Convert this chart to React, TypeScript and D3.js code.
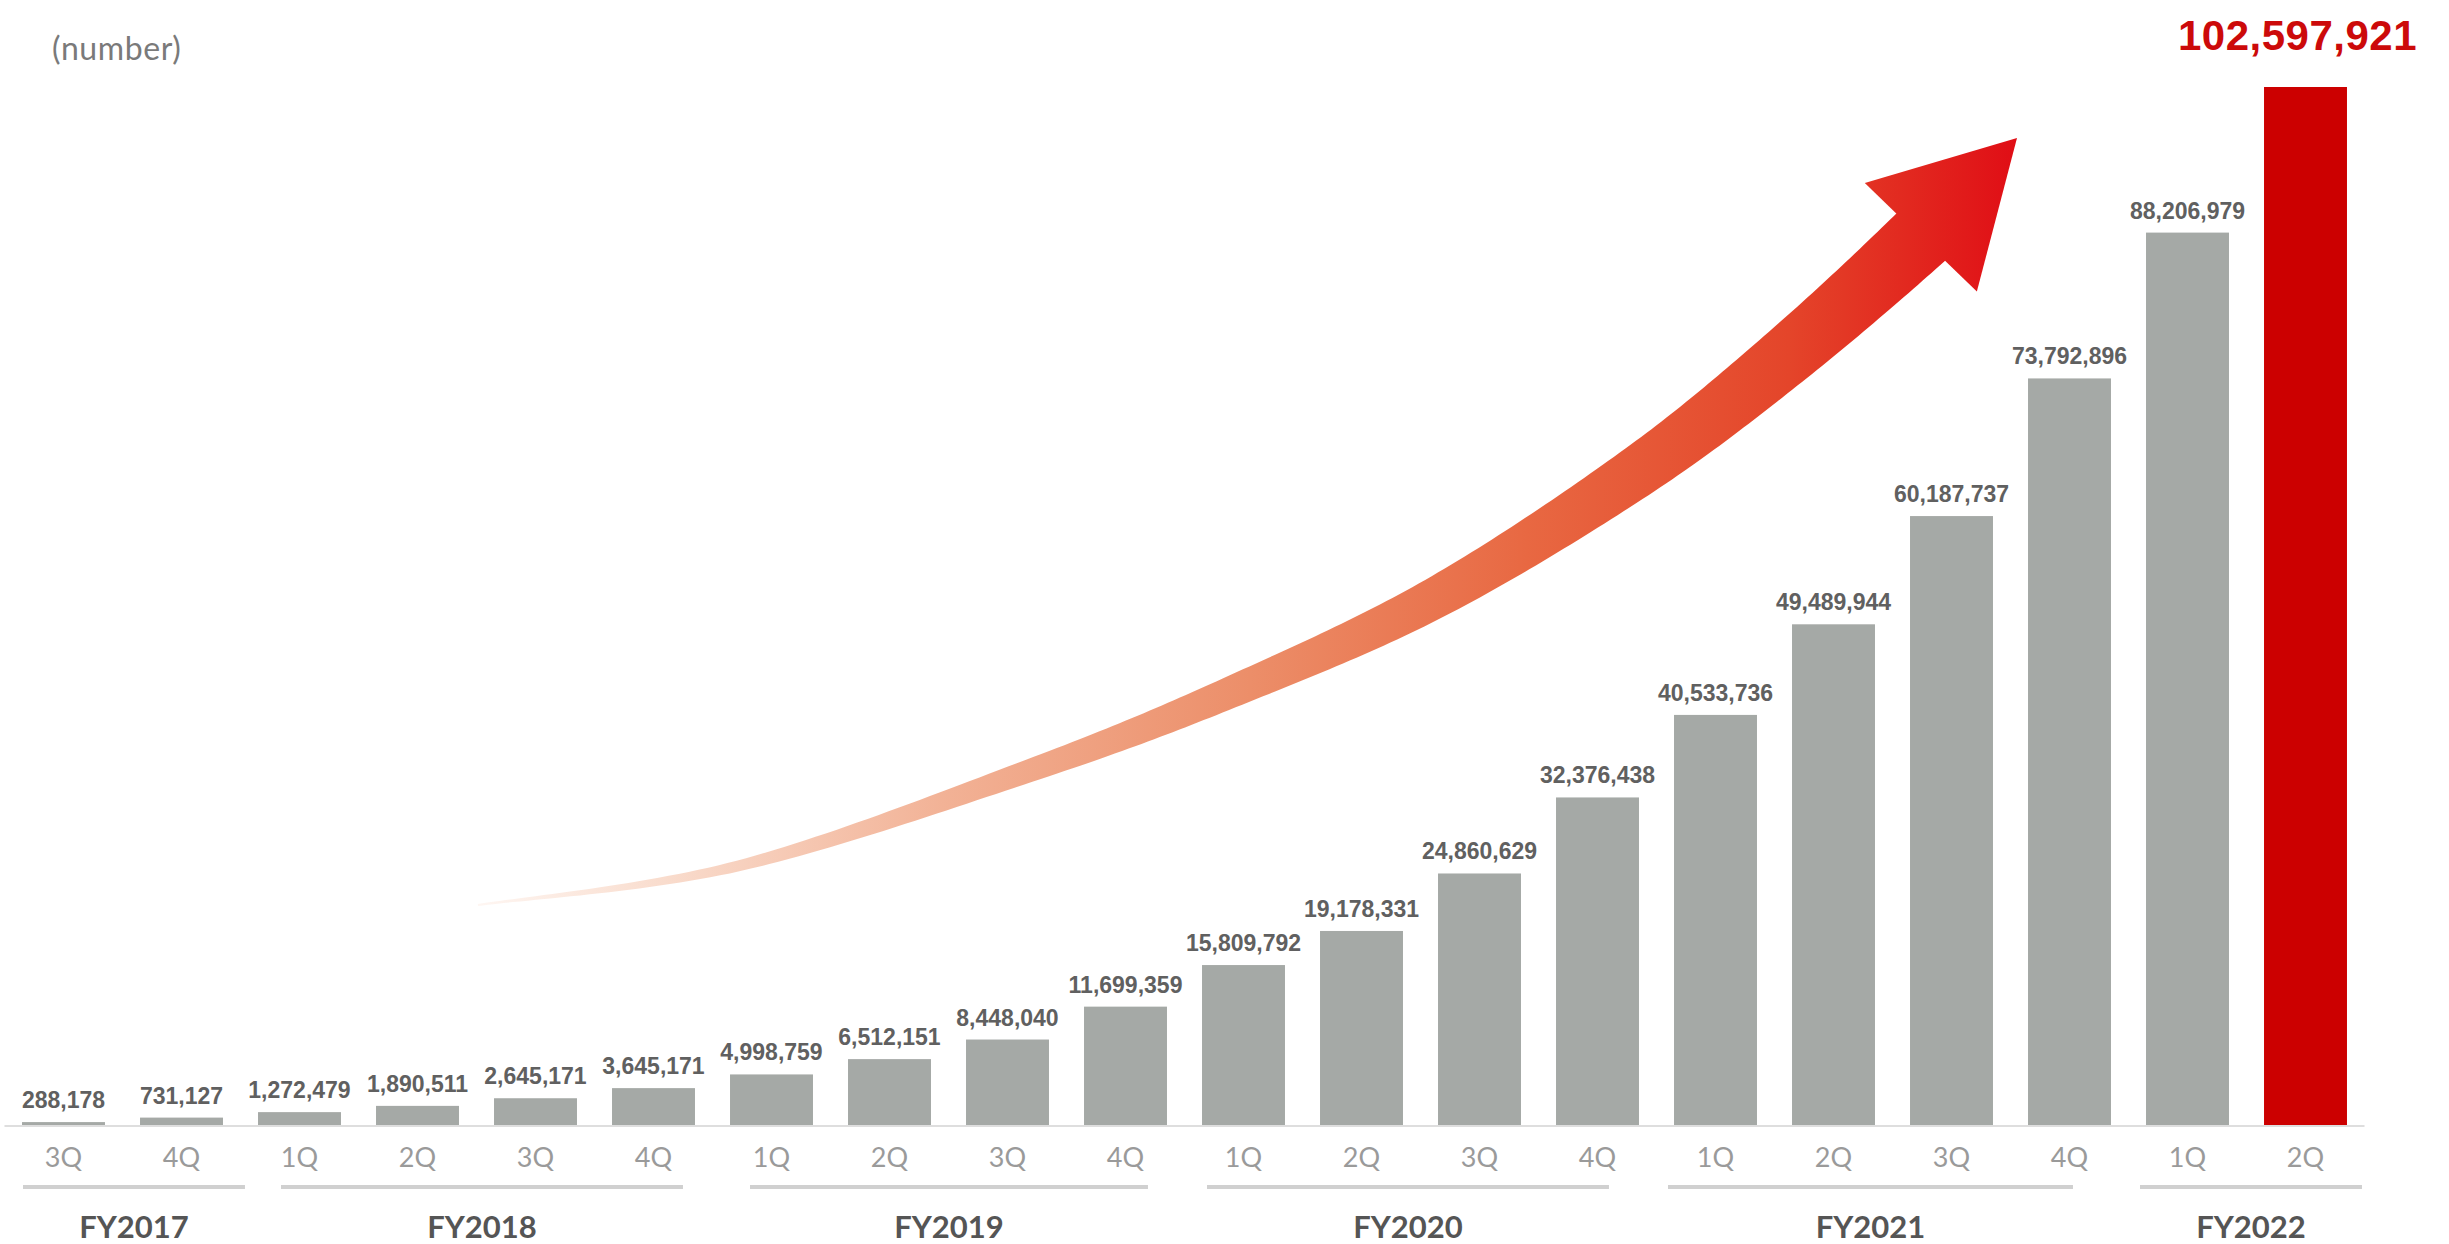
import React, { useEffect } from "react";
import * as d3 from "d3";

// ---------- data ----------
const quarters = ["3Q","4Q","1Q","2Q","3Q","4Q","1Q","2Q","3Q","4Q","1Q","2Q","3Q","4Q","1Q","2Q","3Q","4Q","1Q","2Q"];
const fiscalYears = ["FY2017","FY2017","FY2018","FY2018","FY2018","FY2018","FY2019","FY2019","FY2019","FY2019","FY2020","FY2020","FY2020","FY2020","FY2021","FY2021","FY2021","FY2021","FY2022","FY2022"];
const values = [288178, 731127, 1272479, 1890511, 2645171, 3645171, 4998759, 6512151, 8448040, 11699359, 15809792, 19178331, 24860629, 32376438, 40533736, 49489944, 60187737, 73792896, 88206979, 102597921];
const yearGroups = ["FY2017","FY2018","FY2019","FY2020","FY2021","FY2022"];
const unitLabel = "(number)";

// ---------- layout ----------
const W = 2449, H = 1244;
const baseY = 1125, topY = 87;
const rangeX: [number, number] = [4.5, 2364.5];
// offsets of group underline ends relative to the first bar's left / last bar's right edge
const groupLinePad: [number, number][] = [[1, 22], [23, -12], [20, -19], [5, -30], [-6, -38], [-6, 15]];
const arrowPts: [number, number][] = [[478,905],[738,866],[1037,768],[1236,690],[1435,598],[1634,474],[1783,359],[1925,233]];
const arrowTip: [number, number] = [2017, 138];

function buildArrow() {
  const pts = arrowPts;
  const n = pts.length;
  const samples: [number, number][] = [];
  for (let i = 0; i < n - 1; i++) {
    const p0 = pts[Math.max(i - 1, 0)];
    const p1 = pts[i];
    const p2 = pts[i + 1];
    const p3 = i + 2 < n ? pts[i + 2] : arrowTip;
    const steps = 30;
    for (let k = 0; k < steps; k++) {
      const t = k / steps;
      const t2 = t * t, t3 = t2 * t;
      const f = (a: number, b: number, c: number, d: number) =>
        0.5 * (2 * b + (-a + c) * t + (2 * a - 5 * b + 4 * c - d) * t2 + (-a + 3 * b - 3 * c + d) * t3);
      samples.push([f(p0[0], p1[0], p2[0], p3[0]), f(p0[1], p1[1], p2[1], p3[1])]);
    }
  }
  samples.push(pts[n - 1]);
  const cum = [0];
  for (let i = 1; i < samples.length; i++) {
    cum.push(cum[i - 1] + Math.hypot(samples[i][0] - samples[i - 1][0], samples[i][1] - samples[i - 1][1]));
  }
  const L = cum[cum.length - 1];
  const left: [number, number][] = [];
  const right: [number, number][] = [];
  for (let i = 0; i < samples.length; i++) {
    const a = samples[Math.max(i - 1, 0)];
    const b = samples[Math.min(i + 1, samples.length - 1)];
    let dx = b[0] - a[0], dy = b[1] - a[1];
    const len = Math.hypot(dx, dy) || 1;
    dx /= len; dy /= len;
    const nx = -dy, ny = dx;
    const w = 2 + 66 * Math.pow(cum[i] / L, 1.1);
    left.push([samples[i][0] + nx * w / 2, samples[i][1] + ny * w / 2]);
    right.push([samples[i][0] - nx * w / 2, samples[i][1] - ny * w / 2]);
  }
  const poly = left.concat(right.reverse());
  const shaft = d3.line()(poly) + "Z";
  const E = pts[n - 1];
  let hx = arrowTip[0] - E[0], hy = arrowTip[1] - E[1];
  const hl = Math.hypot(hx, hy);
  hx /= hl; hy /= hl;
  const nx = -hy, ny = hx;
  const back = 6;
  const c1: [number, number] = [E[0] - hx * back + nx * 78, E[1] - hy * back + ny * 78];
  const c2: [number, number] = [E[0] - hx * back - nx * 78, E[1] - hy * back - ny * 78];
  const head = d3.line()([c1, arrowTip, c2]) + "Z";
  return { shaft, head };
}

export default function App() {
  useEffect(() => {
    document.body.style.margin = "0";
    document.body.style.overflow = "hidden";
  }, []);

  const idx = values.map((_, i) => String(i));
  const x = d3.scaleBand<string>().domain(idx).range(rangeX).paddingInner(0.297).paddingOuter(0.1485);
  const y = d3.scaleLinear().domain([0, d3.max(values) as number]).range([baseY, topY]);
  const bw = x.bandwidth();
  const last = values.length - 1;
  const arrow = buildArrow();

  const groups = yearGroups.map((g, gi) => {
    const members = fiscalYears.map((f, i) => (f === g ? i : -1)).filter((i) => i >= 0);
    const first = members[0], lastM = members[members.length - 1];
    const x1 = (x(String(first)) as number) + groupLinePad[gi][0];
    const x2 = (x(String(lastM)) as number) + bw + groupLinePad[gi][1];
    return { g, x1, x2 };
  });

  return (
    <svg width={W} height={H} style={{ display: "block", background: "#fff" }}>
      <defs>
        <linearGradient id="arrowGrad" gradientUnits="userSpaceOnUse" x1={480} y1={0} x2={2020} y2={0}>
          <stop offset="0" stopColor="#fef6f2" />
          <stop offset="0.12" stopColor="#f9dccd" />
          <stop offset="0.3" stopColor="#f2b296" />
          <stop offset="0.5" stopColor="#ec8e69" />
          <stop offset="0.68" stopColor="#e86842" />
          <stop offset="0.85" stopColor="#e4452a" />
          <stop offset="1" stopColor="#e00d15" />
        </linearGradient>
      </defs>

      <text x={52} y={60} fontFamily="Lato, 'Open Sans', sans-serif" fontSize={32} letterSpacing={0.6} fill="#7a7a7a">{unitLabel}</text>

      {/* arrow */}
      <path d={arrow.shaft} fill="url(#arrowGrad)" />
      <path d={arrow.head} fill="url(#arrowGrad)" />

      {/* baseline */}
      <line x1={rangeX[0]} x2={rangeX[1]} y1={baseY + 1} y2={baseY + 1} stroke="#dedede" strokeWidth={2} />

      {/* bars */}
      {values.map((v, i) => (
        <rect key={i} x={x(String(i))} y={y(v)} width={bw} height={baseY - y(v)} fill={i === last ? "#cc0000" : "#a5a9a6"} />
      ))}

      {/* value labels */}
      {values.map((v, i) =>
        i === last ? null : (
          <text key={i} x={(x(String(i)) as number) + bw / 2} y={y(v) - 14} textAnchor="middle"
            fontFamily="'Liberation Sans', Arial, sans-serif" fontWeight="bold" fontSize={23} fill="#606060">
            {d3.format(",")(v)}
          </text>
        )
      )}
      <text x={(x(String(last)) as number) + bw / 2 - 8} y={50} textAnchor="middle"
        fontFamily="'Liberation Sans', Arial, sans-serif" fontWeight="bold" fontSize={42} letterSpacing={0.5} fill="#cc0a0a">
        {d3.format(",")(values[last])}
      </text>

      {/* quarter labels */}
      {quarters.map((q, i) => (
        <text key={i} x={(x(String(i)) as number) + bw / 2} y={1167} textAnchor="middle"
          fontFamily="Lato, 'Open Sans', sans-serif" fontSize={27} fill="#9a9a9a">{q}</text>
      ))}

      {/* year groups */}
      {groups.map((g) => (
        <g key={g.g}>
          <line x1={g.x1} x2={g.x2} y1={1187} y2={1187} stroke="#d0d0d0" strokeWidth={4} />
          <text x={(g.x1 + g.x2) / 2} y={1238} textAnchor="middle" fontFamily="Lato, 'Open Sans', sans-serif"
            fontWeight="bold" fontSize={31} fill="#555">{g.g}</text>
        </g>
      ))}
    </svg>
  );
}
